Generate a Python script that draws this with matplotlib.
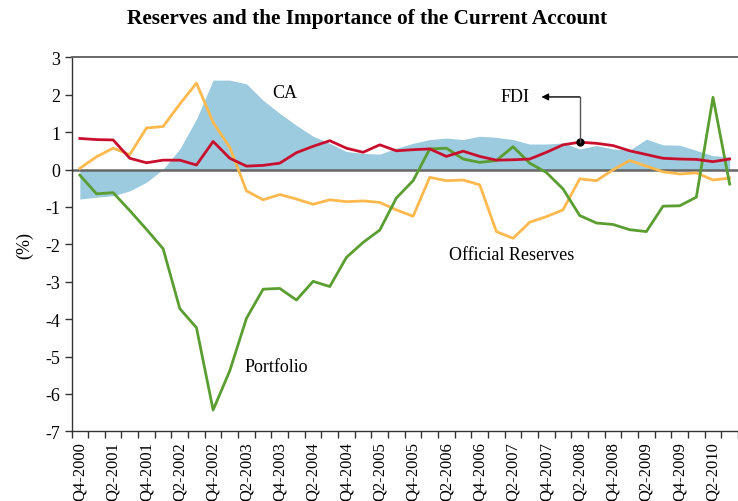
import matplotlib
matplotlib.use("Agg")
import matplotlib.pyplot as plt
import numpy as np

quarters = []
for yr in range(2000, 2011):
    for q in range(1, 5):
        if (yr == 2000 and q < 4) or (yr == 2010 and q > 3):
            continue
        quarters.append(f"Q{q}-{yr}")

ca = [-0.79, -0.74, -0.70, -0.57, -0.34, 0.01, 0.55, 1.35, 2.39, 2.39,
      2.29, 1.85, 1.50, 1.18, 0.89, 0.70, 0.48, 0.43, 0.41, 0.57,
      0.70, 0.80, 0.84, 0.80, 0.89, 0.86, 0.80, 0.68, 0.68, 0.71,
      0.55, 0.64, 0.55, 0.52, 0.81, 0.66, 0.65, 0.51, 0.37, 0.34]
fdi = [0.83, 0.80, 0.79, 0.30, 0.18, 0.25, 0.25, 0.12, 0.75, 0.30,
       0.09, 0.11, 0.17, 0.45, 0.62, 0.77, 0.57, 0.46, 0.66, 0.50,
       0.53, 0.55, 0.35, 0.49, 0.35, 0.25, 0.26, 0.28, 0.46, 0.66,
       0.73, 0.70, 0.64, 0.50, 0.40, 0.30, 0.28, 0.27, 0.21, 0.28]
reserves = [0.03, 0.34, 0.57, 0.40, 1.11, 1.15, 1.75, 2.31, 1.26, 0.59,
            -0.57, -0.81, -0.67, -0.79, -0.93, -0.81, -0.86, -0.84, -0.88, -1.08,
            -1.25, -0.21, -0.30, -0.28, -0.41, -1.66, -1.84, -1.41, -1.26, -1.08,
            -0.25, -0.30, -0.01, 0.24, 0.09, -0.06, -0.12, -0.09, -0.28, -0.23]
portfolio = [-0.15, -0.65, -0.62, -1.10, -1.60, -2.12, -3.72, -4.23, -6.43, -5.38,
             -3.98, -3.20, -3.18, -3.49, -2.99, -3.13, -2.35, -1.95, -1.62, -0.76,
             -0.30, 0.55, 0.57, 0.28, 0.19, 0.24, 0.61, 0.17, -0.08, -0.52,
             -1.23, -1.43, -1.47, -1.61, -1.66, -0.98, -0.97, -0.74, 1.93, -0.39]

fdi_marker_quarter = "Q2-2008"

FONT = "Liberation Serif"
plt.rcParams['font.family'] = [FONT, 'DejaVu Serif']

fig = plt.figure(figsize=(7.38, 5.02), dpi=100)
ax = fig.add_axes([71.5 / 738, 69.7 / 502, (738 - 71.5) / 738, (432.3 - 58.3) / 502])

x = np.arange(len(quarters))
ax.fill_between(x, 0, ca, color="#9ccade", lw=0, zorder=1)
ax.axhline(0, color="#666666", lw=1.8, zorder=2)
ax.plot(x, reserves, color="#fdb94e", lw=2.0, zorder=3)
ax.plot(x, portfolio, color="#5a9e32", lw=2.0, zorder=4)
ax.plot(x, fdi, color="#c8102e", lw=2.0, zorder=5)

mi = quarters.index(fdi_marker_quarter)
ax.plot([mi], [fdi[mi]], "o", color="black", ms=5, zorder=6)
ax.plot([mi, mi], [fdi[mi], 1.94], color="#555555", lw=1.0, zorder=6)
ax.annotate("", xy=(27.7, 1.94), xytext=(mi, 1.94),
            arrowprops=dict(arrowstyle="-|>", color="black", lw=1.0,
                            mutation_scale=10, shrinkA=0, shrinkB=0), zorder=6)

ax.text(12.3, 2.05, "CA", fontsize=13, ha="center", va="center")
ax.text(26.1, 1.94, "FDI", fontsize=13, ha="center", va="center")
ax.text(25.9, -2.26, "Official Reserves", fontsize=13, ha="center", va="center")
ax.text(11.8, -5.28, "Portfolio", fontsize=13, ha="center", va="center")

ax.set_xlim(-0.5, 38.93)
ax.set_ylim(-7, 3)
ax.set_yticks(range(-7, 4))
ax.set_yticklabels([str(v) for v in range(-7, 4)], fontsize=13)
ax.set_xticks(x[::2])
ax.set_xticklabels(quarters[::2], rotation=90, fontsize=12)
ax.set_xticks(np.arange(-0.5, len(quarters), 1.0), minor=True)
ax.tick_params(axis="x", which="major", length=0, pad=7)
ax.tick_params(axis="x", which="minor", length=5, color="#333333", width=1.0)
ax.tick_params(axis="y", length=5, color="#333333", width=1.0, pad=3)

for s in ["left", "bottom"]:
    ax.spines[s].set_color("#333333")
    ax.spines[s].set_linewidth(1.0)
ax.spines["top"].set_color("#666666")
ax.spines["top"].set_linewidth(1.4)
ax.spines["right"].set_visible(False)

ax.set_ylabel("(%)", fontsize=13, labelpad=9)

fig.text(0.497, 0.962, "Reserves and the Importance of the Current Account",
         fontsize=15.3, fontweight="bold", ha="center", va="center")

fig.savefig("out.png", dpi=100)
